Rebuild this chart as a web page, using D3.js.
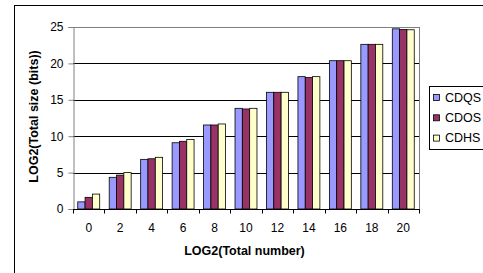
<!DOCTYPE html>
<html>
<head>
<meta charset="utf-8">
<script src="https://cdn.jsdelivr.net/npm/d3@7"></script>
<style>
    body { margin: 0; background: #fff; }
    svg { display: block; font-family: Arial, "Liberation Sans", sans-serif; }
</style>
</head>
<body>
<div id="chart"></div>
<script>
// data
const categories = ["0", "2", "4", "6", "8", "10", "12", "14", "16", "18", "20"];
const seriesNames = ["CDQS", "CDOS", "CDHS"];
const cdqs = [0.98, 4.35, 6.82, 9.1, 11.54, 13.83, 16.03, 18.18, 20.37, 22.62, 24.75];
const cdos = [1.6, 4.65, 6.9, 9.3, 11.54, 13.74, 16.03, 18.05, 20.37, 22.62, 24.65];
const cdhs = [2.05, 5.0, 7.1, 9.55, 11.68, 13.83, 16.03, 18.18, 20.37, 22.62, 24.62];
const yTicks = [0, 5, 10, 15, 20, 25];
const colors = ["#9999ff", "#993366", "#ffffcc"];

const seriesValues = [cdqs, cdos, cdhs];
const rows = categories.map((c, i) => ({
    cat: c,
    vals: seriesNames.map((s, j) => ({ name: s, value: seriesValues[j][i], color: colors[j] }))
}));

const width = 483, height = 273;
const plot = { left: 73, right: 419, top: 27, bottom: 209 };

const svg = d3.select("#chart")
    .append("svg")
    .attr("width", width)
    .attr("height", height);

// outer chart frame (runs off the right and bottom edges)
svg.append("rect")
    .attr("x", 14.5)
    .attr("y", 5.5)
    .attr("width", 500)
    .attr("height", 300)
    .attr("fill", "none")
    .attr("stroke", "#000")
    .attr("stroke-width", 1);

const x0 = d3.scaleBand()
    .domain(categories)
    .range([plot.left, plot.right])
    .padding(0);

const x1 = d3.scaleBand()
    .domain(seriesNames)
    .range([0, x0.bandwidth()])
    .paddingInner(0)
    .paddingOuter(0.65);

const y = d3.scaleLinear()
    .domain([0, 25])
    .range([plot.bottom, plot.top]);

// gridlines
svg.append("g")
    .selectAll("line")
    .data(yTicks.filter(d => d > 0))
    .join("line")
    .attr("x1", plot.left)
    .attr("x2", plot.right)
    .attr("y1", d => Math.round(y(d)) + 0.5)
    .attr("y2", d => Math.round(y(d)) + 0.5)
    .attr("stroke", d => d === 25 ? "#808080" : "#000");

// plot area right border
svg.append("line")
    .attr("x1", plot.right + 0.5)
    .attr("x2", plot.right + 0.5)
    .attr("y1", plot.top)
    .attr("y2", plot.bottom)
    .attr("stroke", "#808080");

// bars
const groups = svg.append("g")
    .selectAll("g")
    .data(rows)
    .join("g")
    .attr("transform", d => `translate(${x0(d.cat)},0)`);

groups.selectAll("rect")
    .data(d => d.vals)
    .join("rect")
    .attr("x", d => x1(d.name))
    .attr("y", d => y(d.value))
    .attr("width", x1.bandwidth())
    .attr("height", d => y(0) - y(d.value))
    .attr("fill", d => d.color)
    .attr("stroke", "#000")
    .attr("stroke-width", 0.8);

// y axis
const yAxis = svg.append("g")
    .attr("transform", `translate(${plot.left + 0.5},0)`)
    .call(d3.axisLeft(y).tickValues(yTicks).tickSize(5).tickPadding(5));
yAxis.select(".domain").attr("stroke", "#808080");
yAxis.selectAll(".tick line").attr("stroke", "#808080");
yAxis.selectAll("text")
    .attr("font-size", 12)
    .attr("fill", "#000")
    .attr("font-family", "Arial, 'Liberation Sans', sans-serif");

// x axis: ticks between categories
const xAxis = svg.append("g")
    .attr("transform", `translate(0,${plot.bottom + 0.5})`);
xAxis.append("line")
    .attr("x1", plot.left)
    .attr("x2", plot.right + 1)
    .attr("stroke", "#000");
xAxis.selectAll(".tk")
    .data(categories.concat(["end"]))
    .join("line")
    .attr("class", "tk")
    .attr("x1", (d, i) => Math.round(plot.left + i * x0.step()) + 0.5)
    .attr("x2", (d, i) => Math.round(plot.left + i * x0.step()) + 0.5)
    .attr("y1", 0)
    .attr("y2", 4)
    .attr("stroke", "#000");
xAxis.selectAll("text")
    .data(categories)
    .join("text")
    .attr("x", d => x0(d) + x0.bandwidth() / 2)
    .attr("y", 22.5)
    .attr("text-anchor", "middle")
    .attr("font-size", 12)
    .text(d => d);

// axis titles
svg.append("text")
    .attr("transform", `translate(38,116.5) rotate(-90)`)
    .attr("text-anchor", "middle")
    .attr("font-size", 12.5)
    .attr("font-weight", "bold")
    .text("LOG2(Total size (bits))");

svg.append("text")
    .attr("x", 244.5)
    .attr("y", 255)
    .attr("text-anchor", "middle")
    .attr("font-size", 12.5)
    .attr("font-weight", "bold")
    .text("LOG2(Total number)");

// legend
const legend = svg.append("g");
legend.append("rect")
    .attr("x", 429.5)
    .attr("y", 86.5)
    .attr("width", 80)
    .attr("height", 63)
    .attr("fill", "#fff")
    .attr("stroke", "#000");

const items = legend.selectAll("g.item")
    .data(seriesNames)
    .join("g")
    .attr("class", "item")
    .attr("transform", (d, i) => `translate(0,${97 + i * 20.3})`);
items.append("rect")
    .attr("x", 433.5)
    .attr("y", -2.5)
    .attr("width", 6)
    .attr("height", 6)
    .attr("fill", (d, i) => colors[i])
    .attr("stroke", "#000")
    .attr("stroke-width", 0.8);
items.append("text")
    .attr("x", 445)
    .attr("y", 4.5)
    .attr("font-size", 12.5)
    .text(d => d);
</script>
</body>
</html>
